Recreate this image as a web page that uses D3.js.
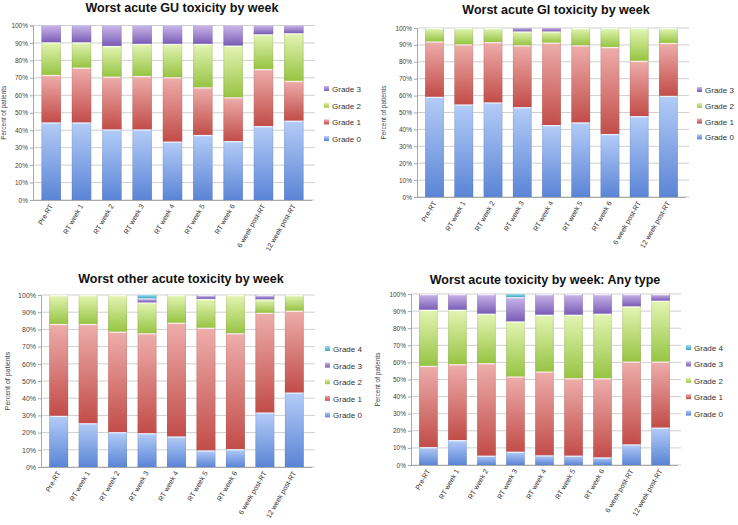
<!DOCTYPE html>
<html><head><meta charset="utf-8">
<script src="https://cdn.jsdelivr.net/npm/d3@7"></script>
<style>
body{margin:0;background:#fff;}
text{font-family:"Liberation Sans",Arial,sans-serif;}
</style></head>
<body><svg id="c" width="738" height="525"></svg>
<script>
const categories = ["Pre-RT","RT week 1","RT week 2","RT week 3","RT week 4","RT week 5","RT week 6","6 week post-RT","12 week post-RT"];
const yTicks = [0,10,20,30,40,50,60,70,80,90,100];

// Worst acute GU toxicity (percent of patients)
const guGrade0 = [44.5,44.5,40.5,40.5,33.5,37.3,33.8,42.4,45.5];
const guGrade1 = [27.2,31.4,30.2,30.6,36.9,27.3,25.1,32.7,22.8];
const guGrade2 = [18.7,14.5,17.6,18.4,19.1,24.9,29.6,19.9,27.3];
const guGrade3 = [9.6,9.6,11.7,10.5,10.5,10.5,11.5,5.0,4.4];

// Worst acute GI toxicity
const giGrade0 = [59.3,54.8,56.0,53.2,42.6,44.2,37.3,47.9,59.9];
const giGrade1 = [32.8,35.6,35.7,36.6,48.8,45.6,51.5,32.7,31.3];
const giGrade2 = [7.9,9.6,8.3,8.2,6.6,10.2,11.2,19.4,8.8];
const giGrade3 = [0,0,0,2.0,2.0,0,0,0,0];

// Worst other acute toxicity
const otGrade0 = [29.8,25.5,20.3,19.7,17.8,9.7,10.4,31.7,43.3];
const otGrade1 = [53.4,57.7,58.4,58.1,66.1,71.3,67.4,58.0,47.6];
const otGrade2 = [16.8,16.8,21.3,17.9,16.1,16.7,22.2,7.8,9.1];
const otGrade3 = [0,0,0,2.4,0,2.3,0,2.5,0];
const otGrade4 = [0,0,0,1.9,0,0,0,0,0];

// Worst acute toxicity: any type
const anyGrade0 = [10.5,14.6,5.5,7.8,5.7,5.5,4.5,12.1,21.9];
const anyGrade1 = [47.5,44.4,54.1,44.0,49.0,45.3,46.3,48.4,38.6];
const anyGrade2 = [32.8,31.8,28.9,32.2,33.2,37.1,37.7,32.3,35.6];
const anyGrade3 = [9.2,9.2,11.5,14.2,12.1,12.1,11.5,7.2,3.9];
const anyGrade4 = [0,0,0,1.8,0,0,0,0,0];

const gradeNames = ["Grade 0","Grade 1","Grade 2","Grade 3","Grade 4"];
const gradeLight = ["#b4cdf8","#eeaeab","#e4f5b4","#c9b7ea","#9fe0ee"];
const gradeDark  = ["#5a84d6","#c24c48","#97c443","#7a5cb6","#3aa6c6"];

const svg = d3.select("#c");
const defs = svg.append("defs");
gradeNames.forEach((g,i)=>{
  const lg = defs.append("linearGradient").attr("id","grad"+i).attr("x1",0).attr("y1",0).attr("x2",0).attr("y2",1);
  lg.append("stop").attr("offset","0%").attr("stop-color",gradeLight[i]);
  lg.append("stop").attr("offset","100%").attr("stop-color",gradeDark[i]);
  const lh = defs.append("linearGradient").attr("id","hgrad"+i).attr("x1",0).attr("y1",0).attr("x2",1).attr("y2",0);
  lh.append("stop").attr("offset","0%").attr("stop-color","#000").attr("stop-opacity",0.12);
  lh.append("stop").attr("offset","12%").attr("stop-color","#fff").attr("stop-opacity",0.0);
  lh.append("stop").attr("offset","88%").attr("stop-color","#fff").attr("stop-opacity",0.0);
  lh.append("stop").attr("offset","100%").attr("stop-color","#000").attr("stop-opacity",0.12);
});

function panel(cfg){
  const series = cfg.series;
  const keys = series.map((s,i)=>"g"+i);
  const rows = categories.map((c,j)=>{
    const r = {cat:c};
    series.forEach((s,i)=> r["g"+i]=s[j]);
    return r;
  });
  const stack = d3.stack().keys(keys)(rows);
  const x = d3.scaleBand().domain(categories).range([cfg.x0,cfg.x1]).paddingInner(0.36).paddingOuter(0.28);
  const y = d3.scaleLinear().domain([0,100]).range([cfg.yb,cfg.yt]);
  const g = svg.append("g");

  // gridlines
  g.selectAll("line.grid").data(yTicks).join("line")
    .attr("x1",cfg.x0).attr("x2",cfg.x1+3)
    .attr("y1",d=>y(d)).attr("y2",d=>y(d))
    .attr("stroke","#cfcfcf").attr("stroke-width",1);

  // y axis
  const ya = g.append("g").attr("transform",`translate(${cfg.x0},0)`)
    .call(d3.axisLeft(y).tickValues(yTicks).tickFormat(d=>d+"%").tickSize(3).tickPadding(2));
  ya.select(".domain").attr("stroke","#a8a8a8");
  ya.selectAll(".tick line").attr("stroke","#a8a8a8");
  ya.selectAll("text").attr("font-size",cfg.tickFs).attr("fill","#444");

  // bars
  stack.forEach((layer,i)=>{
    const lay = g.append("g");
    lay.selectAll("rect.m").data(layer.filter(d=>d[1]-d[0]>0)).join("rect")
      .attr("x",d=>x(d.data.cat)).attr("width",x.bandwidth())
      .attr("y",d=>y(d[1])).attr("height",d=>y(d[0])-y(d[1]))
      .attr("fill",`url(#grad${i})`);
    lay.selectAll("rect.h").data(layer.filter(d=>d[1]-d[0]>0)).join("rect")
      .attr("x",d=>x(d.data.cat)).attr("width",x.bandwidth())
      .attr("y",d=>y(d[1])).attr("height",d=>y(d[0])-y(d[1]))
      .attr("fill",`url(#hgrad${i})`);
    lay.selectAll("rect.t").data(layer.filter(d=>d[1]-d[0]>0 && i<cfg.series.length-1)).join("rect")
      .attr("x",d=>x(d.data.cat)+1).attr("width",x.bandwidth()-2)
      .attr("y",d=>y(d[1])).attr("height",1.3)
      .attr("fill","#fff").attr("opacity",0.75);
  });

  // x axis
  const xa = g.append("g").attr("transform",`translate(0,${cfg.yb})`)
    .call(d3.axisBottom(x).tickSize(0).tickPadding(0));
  xa.select(".domain").attr("stroke","#a8a8a8").attr("d",`M${cfg.x0},0.5H${cfg.x1}`);
  xa.selectAll(".tick text")
    .attr("font-size",cfg.labFs).attr("fill","#333")
    .attr("text-anchor","end").attr("dy",0).attr("y",0)
    .attr("transform","translate(2,6) rotate(-60)");

  // title
  g.append("text").attr("x",cfg.tx).attr("y",cfg.ty).attr("text-anchor","middle")
    .attr("font-weight","bold").attr("font-size",12.5).attr("fill","#111").text(cfg.title);

  // y title
  g.append("text").attr("transform",`translate(${cfg.ytx},${(cfg.yt+cfg.yb)/2}) rotate(-90)`)
    .attr("text-anchor","middle").attr("font-size",cfg.tickFs).attr("fill","#444").text("Percent of patients");

  // legend (reverse order)
  const n = series.length;
  for(let k=n-1;k>=0;k--){
    const idx = n-1-k;
    const ly = cfg.ly + idx*cfg.lstep;
    g.append("rect").attr("x",cfg.lx).attr("y",ly-3).attr("width",5).attr("height",5).attr("fill",`url(#grad${k})`);
    g.append("text").attr("x",cfg.lx+8).attr("y",ly+3).attr("font-size",8).attr("fill","#333").text(gradeNames[k]);
  }
}

panel({series:[guGrade0,guGrade1,guGrade2,guGrade3], title:"Worst acute GU toxicity by week",
  x0:33,x1:312,yt:25.5,yb:200, tx:182,ty:12, ytx:6, lx:324, ly:89, lstep:16.7, tickFs:6.5, labFs:7});
panel({series:[giGrade0,giGrade1,giGrade2,giGrade3], title:"Worst acute GI toxicity by week",
  x0:417,x1:686,yt:28,yb:197, tx:556,ty:14, ytx:386, lx:697, ly:90, lstep:15.8, tickFs:6.5, labFs:7});
panel({series:[otGrade0,otGrade1,otGrade2,otGrade3,otGrade4], title:"Worst other acute toxicity by week",
  x0:41,x1:312,yt:295,yb:467, tx:181,ty:283, ytx:10, lx:325, ly:349, lstep:16.6, tickFs:7, labFs:7});
panel({series:[anyGrade0,anyGrade1,anyGrade2,anyGrade3,anyGrade4], title:"Worst acute toxicity by week: Any type",
  x0:411,x1:678,yt:294,yb:465, tx:545,ty:284, ytx:380, lx:686, ly:348, lstep:16.4, tickFs:6.5, labFs:7});
</script></body></html>
